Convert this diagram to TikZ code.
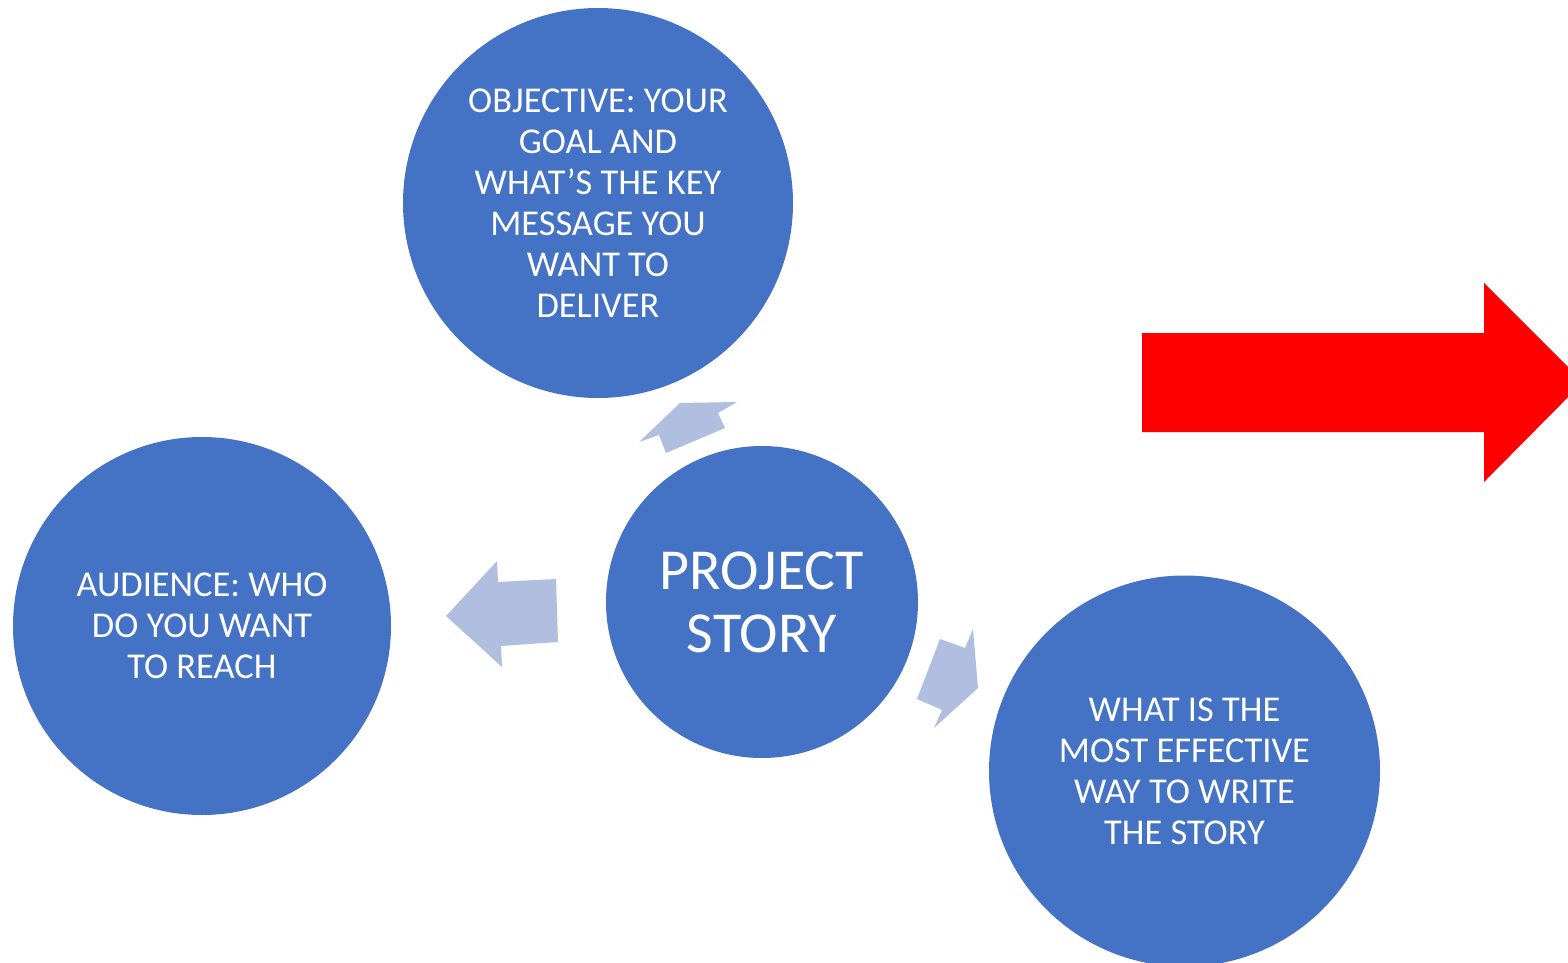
\documentclass[tikz,border=0pt]{standalone}
\usepackage{fontspec}
\setmainfont{Carlito}
\usepackage{xcolor}
\usepackage{tikz}
\definecolor{bubbleblue}{HTML}{4472C4}
\definecolor{paleblue}{HTML}{B0BEE0}
\definecolor{bigred}{HTML}{FF0000}
\tikzstyle{bubble} = [circle, fill=bubbleblue, draw=none, text=white, align=center, inner sep=0pt, font=\fontsize{18.2pt}{20.5pt}\selectfont]
\tikzstyle{hub} = [bubble, font=\fontsize{29pt}{31.5pt}\selectfont]
\tikzstyle{pointer} = [fill=paleblue, draw=none]

\begin{document}
\begin{tikzpicture}[x=0.5pt, y=-0.5pt]

		\clip (0,0) rectangle (1568,963);

		% Circles
		\node (hub) [hub, minimum size=156pt] at (762,602) {PROJECT\\STORY};
		\node (objective) [bubble, minimum size=195pt] at (598,203) {OBJECTIVE: YOUR\\GOAL AND\\WHAT’S THE KEY\\MESSAGE YOU\\WANT TO\\DELIVER};
		\node (audience) [bubble, minimum size=189pt] at (202,626) {AUDIENCE: WHO\\DO YOU WANT\\TO REACH};
		\node (howto) [bubble, minimum size=195.5pt] at (1184.5,771) {WHAT IS THE\\MOST EFFECTIVE\\WAY TO WRITE\\THE STORY};

		% Pale arrows out of the hub
		\fill [pointer] (666,453) -- (725,428) -- (718,413) -- (737,402) -- (680,403) -- (639,442) -- (659,435) -- cycle;
		\fill [pointer] (556,579) -- (498,582) -- (497,561) -- (446,616) -- (502,667) -- (501,646) -- (558,642) -- cycle;
		\fill [pointer] (940,639) -- (965,648) -- (973,629) -- (978,688) -- (934,728) -- (942,710) -- (917,699) -- cycle;

		% Red arrow on the right
		\fill [bigred] (1142,333) -- (1484,333) -- (1484,283) -- (1583,382) -- (1484,482) -- (1484,432) -- (1142,432) -- cycle;

	\end{tikzpicture}
\end{document}
